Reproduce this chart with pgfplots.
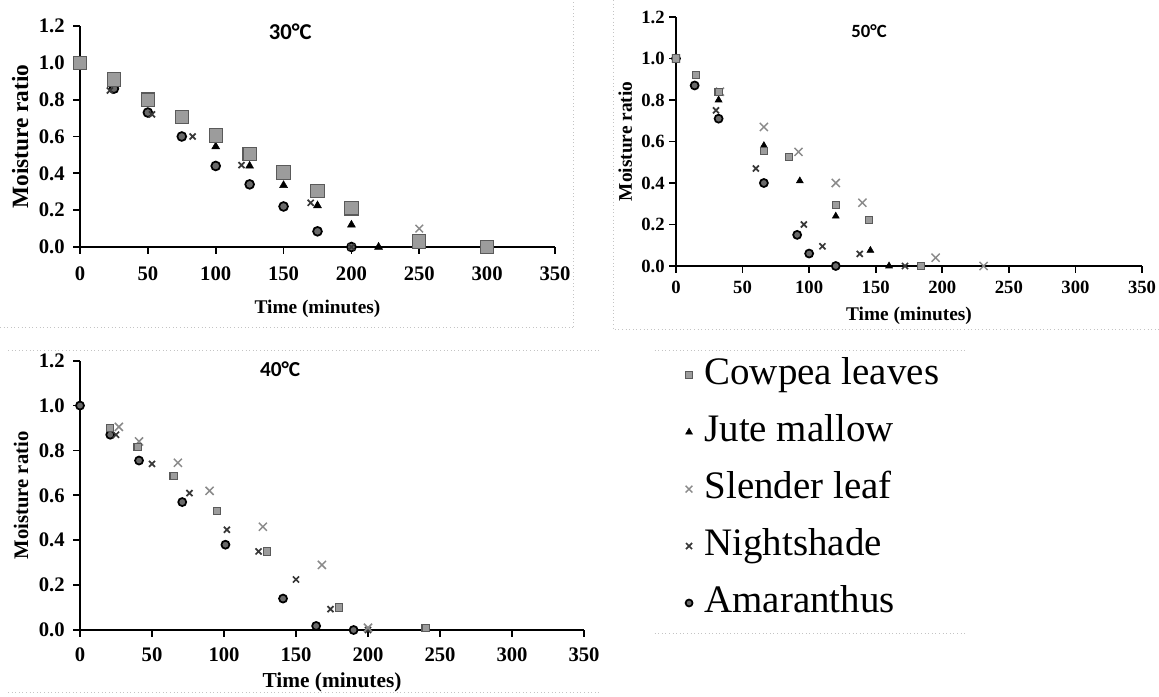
\documentclass[border=0pt]{standalone}
\usepackage{fontspec}
\setmainfont{Liberation Serif}
\newfontfamily\titlefont{Carlito}
\usepackage{pgfplots}
\pgfplotsset{compat=1.18}

\definecolor{sqfill}{HTML}{9C9C9C}
\definecolor{sqdraw}{HTML}{5A5A5A}
\definecolor{slendergray}{HTML}{8A8A8A}
\definecolor{nightgray}{HTML}{383838}
\definecolor{amafill}{HTML}{6A6A6A}
\definecolor{framegray}{HTML}{C4C4C4}

\pgfplotsset{
  drying/.style n args={3}{% tick size, x label size, y label size
    scale only axis, anchor=south west, clip=false,
    xmin=0, xmax=350, ymin=0, ymax=1.2,
    xtick={0,50,100,150,200,250,300,350},
    ytick={0,0.2,0.4,0.6,0.8,1.0,1.2},
    axis lines*=left,
    axis line style={-, line width=1.3pt, black},
    every tick/.style={black, line width=1.3pt},
    tick align=outside, major tick length=5pt,
    /pgf/number format/assume math mode=true,
    yticklabel style={/pgf/number format/fixed, /pgf/number format/fixed zerofill, /pgf/number format/precision=1},
    ticklabel style={font=\bfseries\fontsize{#1}{#1}\selectfont},
    xlabel={Time (minutes)}, ylabel={Moisture ratio},
    xlabel style={font=\bfseries\fontsize{#2}{#2}\selectfont},
    ylabel style={font=\bfseries\fontsize{#3}{#3}\selectfont},
  },
  cowpea/.style={only marks, mark=square*, mark options={fill=sqfill, draw=sqdraw, line width=0.8pt}},
  jute/.style={only marks, mark=triangle*, mark options={fill=black, draw=black, line width=0.4pt}},
  slender/.style={only marks, mark=x, mark options={draw=slendergray, line width=1.1pt}},
  night/.style={only marks, mark=x, mark options={draw=nightgray, line width=1.3pt}},
  ama/.style={only marks, mark=*, mark options={fill=amafill, draw=black, line width=1.3pt}},
}

\begin{document}
\begin{tikzpicture}
\path[use as bounding box] (0,0) rectangle (869.25pt,522pt);

% light dotted chart-area borders
\begin{scope}[framegray, dotted, line width=0.7pt]
  \draw (0,276.75pt) -- (429.75pt,276.75pt);
  \draw (429.75pt,276.75pt) -- (429.75pt,522pt);
  \draw (459.75pt,522pt) -- (459.75pt,275pt) -- (869.25pt,275pt);
  \draw (6pt,259.5pt) -- (450pt,259.5pt);
  \draw (6pt,3pt) -- (450pt,3pt);
  \draw (491pt,259.5pt) -- (724pt,259.5pt);
  \draw (491pt,47pt) -- (724pt,47pt);
\end{scope}

% ---------------- 30 C ----------------
\begin{axis}[drying={15.5}{14.5}{17.5},
  at={(60pt,336.75pt)}, width=356.25pt, height=165.75pt,
  xticklabel style={yshift=-6pt}, yticklabel style={xshift=-3pt},
  xlabel style={yshift=-8pt}, ylabel style={yshift=1pt}]
\addplot[ama, mark size=3.3pt] coordinates {
  (0,1.0) (25,0.86) (50,0.73) (75,0.60) (100,0.44) (125,0.34) (150,0.22) (175,0.085) (200,0.0)};
\addplot[night, mark size=3.2pt] coordinates {
  (0,1.0) (22,0.85) (53,0.72) (83,0.60) (119,0.445) (170,0.24) (200,0.0)};
\addplot[slender, mark size=4pt] coordinates {
  (0,1.0) (25,0.90) (50,0.80) (75,0.70) (100,0.60) (125,0.50) (150,0.40) (175,0.30) (200,0.20) (250,0.10) (300,0.0)};
\addplot[jute, mark size=3.4pt] coordinates {
  (0,1.0) (25,0.89) (50,0.79) (75,0.69) (100,0.545) (125,0.44) (150,0.335) (175,0.225) (200,0.12) (220,0.0)};
\addplot[cowpea, mark size=5pt] coordinates {
  (0,1.0) (25,0.91) (50,0.80) (75,0.705) (100,0.605) (125,0.505) (150,0.405) (175,0.305) (200,0.21) (250,0.03) (300,0.0)};
\node[font=\titlefont\bfseries\fontsize{17}{17}\selectfont] at (axis cs:155,1.17) {30°C};
\end{axis}

% ---------------- 50 C ----------------
\begin{axis}[drying={14}{14.5}{14.5},
  at={(507pt,322.5pt)}, width=349.5pt, height=186.75pt,
  xticklabel style={yshift=-3pt},
  xlabel style={yshift=-3pt}]
\addplot[ama, mark size=3pt] coordinates {
  (0,1.0) (14,0.87) (32,0.71) (66,0.40) (91,0.15) (100,0.06) (120,0.0)};
\addplot[night, mark size=3.2pt] coordinates {
  (0,1.0) (30,0.75) (60,0.47) (96,0.20) (110,0.095) (138,0.058) (172,0.0)};
\addplot[slender, mark size=4.3pt] coordinates {
  (0,1.0) (33,0.84) (66,0.67) (92,0.55) (120,0.40) (140,0.305) (195,0.04) (231,0.0)};
\addplot[jute, mark size=3pt] coordinates {
  (0,1.0) (32,0.80) (66,0.58) (93,0.41) (120,0.24) (146,0.075) (160,0.0)};
\addplot[cowpea, mark size=2.7pt] coordinates {
  (0,1.0) (15,0.92) (32,0.84) (66,0.555) (85,0.525) (120,0.295) (145,0.22) (184,0.0)};
\node[font=\titlefont\bfseries\fontsize{14}{14}\selectfont] at (axis cs:145,1.13) {50°C};
\end{axis}

% ---------------- 40 C ----------------
\begin{axis}[drying={15.5}{16}{15.5},
  at={(60pt,49.5pt)}, width=378pt, height=202pt,
  xticklabel style={yshift=-5pt}, yticklabel style={xshift=-3pt},
  xlabel style={yshift=-1pt}, ylabel style={yshift=1pt}]
\addplot[ama, mark size=3pt] coordinates {
  (0,1.0) (21,0.87) (41,0.755) (71,0.57) (101,0.38) (141,0.14) (164,0.018) (190,0.0)};
\addplot[night, mark size=3.2pt] coordinates {
  (25,0.87) (50,0.74) (76,0.61) (102,0.447) (124,0.35) (150,0.225) (174,0.093) (200,0.0)};
\addplot[slender, mark size=4.3pt] coordinates {
  (27,0.905) (41,0.84) (68,0.745) (90,0.62) (127,0.46) (168,0.29) (200,0.01)};
\addplot[cowpea, mark size=2.7pt] coordinates {
  (21,0.90) (40,0.815) (65,0.687) (95,0.53) (130,0.35) (180,0.10) (240,0.01)};
\node[font=\titlefont\bfseries\fontsize{16}{16}\selectfont] at (axis cs:139,1.16) {40°C};
\end{axis}

% ---------------- legend ----------------
\begin{axis}[hide axis, scale only axis, anchor=north west,
  at={(511pt,257pt)}, width=200pt, height=200pt,
  xmin=0, xmax=1, ymin=0, ymax=1,
  legend cell align=left,
  legend image code/.code={\draw[mark repeat=2, mark phase=2, #1] plot coordinates {(0cm,0cm) (0.14cm,0cm) (0.28cm,0cm)};},
  legend style={at={(0,1)}, anchor=north west, draw=none, fill=none,
    font=\fontsize{29.2}{29.2}\selectfont, row sep=14.2pt, column sep=8pt,
    nodes={inner sep=1pt, text height=20pt, text depth=6.5pt}}]
\addlegendimage{cowpea, mark size=2.6pt}
\addlegendentry{Cowpea leaves}
\addlegendimage{jute, mark size=3pt}
\addlegendentry{Jute mallow}
\addlegendimage{slender, mark size=3.6pt}
\addlegendentry{Slender leaf}
\addlegendimage{night, mark size=3.2pt}
\addlegendentry{Nightshade}
\addlegendimage{ama, mark size=2.6pt}
\addlegendentry{Amaranthus}
\end{axis}
\end{tikzpicture}
\end{document}
